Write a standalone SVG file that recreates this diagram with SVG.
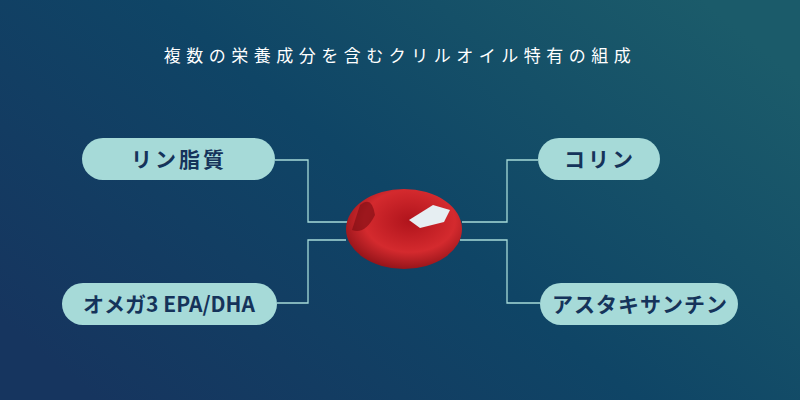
<svg xmlns="http://www.w3.org/2000/svg" width="800" height="400" viewBox="0 0 800 400">
<defs>
<linearGradient id="bg" x1="0" y1="0.8" x2="1" y2="0.2"><stop offset="0" stop-color="#16355f"/><stop offset="0.5" stop-color="#0f4566"/><stop offset="1" stop-color="#1b5b6a"/></linearGradient>
<radialGradient id="cap" cx="0.55" cy="0.4" r="0.65"><stop offset="0" stop-color="#b0141c"/><stop offset="0.6" stop-color="#d42a2e"/><stop offset="1" stop-color="#8a1016"/></radialGradient>
<style>.pill{fill:#a6dad8}.lbl{font-family:"Noto Sans CJK JP","Noto Sans",sans-serif;font-weight:bold;font-size:21px;fill:#15335a;text-anchor:middle;letter-spacing:3px}.ln{fill:none;stroke:#a6dad8;stroke-width:1.3}</style>
</defs>
<rect width="800" height="400" fill="url(#bg)"/>
<text x="400" y="62" font-family="'Noto Sans CJK JP',sans-serif" font-size="17" fill="#ffffff" text-anchor="middle" letter-spacing="5.5">複数の栄養成分を含むクリルオイル特有の組成</text>
<g id="connectors">
<path class="ln" d="M275 160H308V222H348"/>
<path class="ln" d="M277 303H308V240H346"/>
<path class="ln" d="M462 222H507V160H538"/>
<path class="ln" d="M460 240H507V303H540"/>
</g>
<g id="capsule">
<ellipse cx="404" cy="229" rx="58" ry="40" fill="url(#cap)"/>
<path d="M360 205Q372 195 375 215Q365 235 352 230Z" fill="#7a0c12" opacity="0.6"/>
<path d="M409 220L433 205L450 210L444 222L420 228Z" fill="#e6eef2"/>
</g>
<g id="n1"><rect class="pill" x="82" y="138" width="193" height="42" rx="21"/><text class="lbl" x="179" y="167">リン脂質</text></g>
<g id="n2"><rect class="pill" x="62" y="283" width="215" height="42" rx="21"/><text class="lbl" x="169" y="312" style="letter-spacing:0">オメガ3 EPA/DHA</text></g>
<g id="n3"><rect class="pill" x="538" y="138" width="122" height="42" rx="21"/><text class="lbl" x="600" y="167">コリン</text></g>
<g id="n4"><rect class="pill" x="540" y="283" width="198" height="42" rx="21"/><text class="lbl" x="640" y="312" style="letter-spacing:1px">アスタキサンチン</text></g>
</svg>
